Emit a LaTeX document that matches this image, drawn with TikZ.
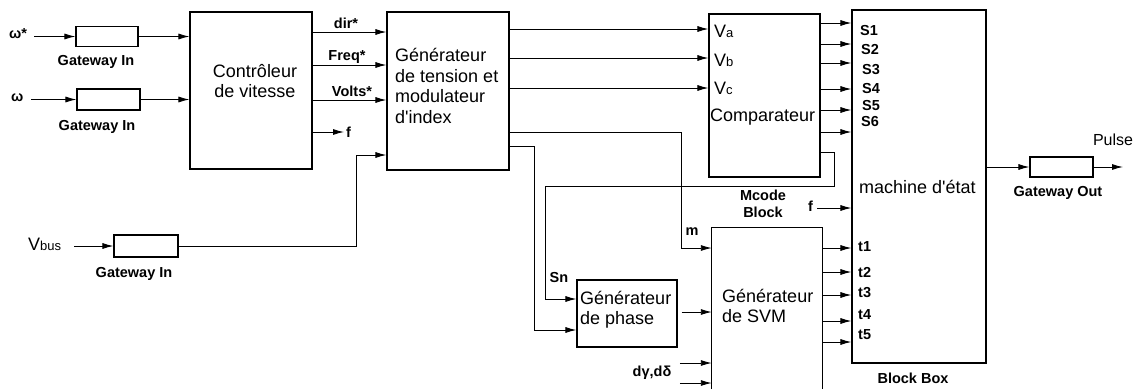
\documentclass[tikz,border=0pt]{standalone}
\usepackage{fontspec}
\setmainfont{Liberation Sans}
\usetikzlibrary{arrows.meta,calc}
\begin{document}
\begin{tikzpicture}[x=1pt,y=-1pt,
  box/.style={draw,line width=1.1pt,inner sep=0pt},
  lbl/.style={inner sep=0pt,font=\fontsize{14.5}{17}\selectfont\bfseries},
  big/.style={inner sep=0pt,align=left,font=\fontsize{18}{20.5}\selectfont},
  arr/.style={line width=0.9pt,-{Latex[length=11pt,width=6pt]}},
  wire/.style={line width=0.9pt}]
\useasboundingbox (0,0) rectangle (1135,389);
\newcommand{\subsm}[1]{{\fontsize{13}{13}\selectfont #1}}
% gateways
\node[box,minimum width=62,minimum height=20] (gw1) at (107,36.5) {};
\node[box,minimum width=63,minimum height=21] (gw2) at (108.5,99.5) {};
\node[box,minimum width=64,minimum height=22] (gw3) at (146,246) {};
\node[box,minimum width=63,minimum height=20] (gwo) at (1061.5,167) {};
\node[lbl] (gw1t) at (96,62) {Gateway In};
\node[lbl] (gw2t) at (97,127) {Gateway In};
\node[lbl] (gw3t) at (134,274) {Gateway In};
\node[lbl] (gwot) at (1058,193) {Gateway Out};
% inputs
\node[lbl,anchor=west] (om1) at (9,34) {ω*};
\node[lbl,anchor=west] (om2) at (11,98) {ω};
\node[big,anchor=west] (vbus) at (28,244) {V\subsm{bus}};
\draw[arr] ($(gw1.west)+(-41,0)$) -- (gw1.west);
\draw[arr] ($(gw2.west)+(-45,0)$) -- (gw2.west);
\draw[arr] ($(gw3.west)+(-39,0)$) -- (gw3.west);
% blocks
\node[box,minimum width=122,minimum height=157] (ctrl) at (251,90.5) {};
\node[big,align=center] (ctrlt) at (255,81) {Contrôleur\\de vitesse};
\node[box,minimum width=122,minimum height=158] (gen) at (448,91) {};
\node[big,anchor=west] (gent) at (395,86) {Générateur\\de tension et\\modulateur\\d\textquotesingle index};
\node[box,minimum width=111,minimum height=163] (comp) at (764.5,95.5) {};
\node[big,anchor=west] (compt) at (710,117) {Comparateur};
\node[big,anchor=west] (va) at (714,31) {V\subsm{a}};
\node[big,anchor=west] (vb) at (714,60) {V\subsm{b}};
\node[big,anchor=west] (vc) at (714,88) {V\subsm{c}};
\node[box,minimum width=134,minimum height=353] (state) at (919,186.5) {};
\node[big,anchor=west] (statet) at (859,187) {machine d\textquotesingle état};
\node[box,minimum width=100,minimum height=67] (phase) at (627,313.5) {};
\node[big,anchor=west] (phaset) at (580,309.5) {Générateur\\de phase};
\node[inner sep=0pt,minimum width=110,minimum height=161] (svm) at (767,308.5) {};
\draw[line width=1.1pt] (svm.south west) -- (svm.north west) -- (svm.north east) -- (svm.south east);
\node[big,anchor=west] (svmt) at (722,306) {Générateur\\de SVM};
% gateway -> controller
\draw[arr] (gw1.east) -- (ctrl.west |- gw1.east);
\draw[arr] (gw2.east) -- (ctrl.west |- gw2.east);
% controller outputs
\draw[arr] (ctrl.east |- 0,32) -- (gen.west |- 0,32);
\draw[arr] (ctrl.east |- 0,65) -- (gen.west |- 0,65);
\draw[arr] (ctrl.east |- 0,100) -- (gen.west |- 0,100);
\node[lbl] (dirt) at (346,23) {dir*};
\node[lbl] (freqt) at (347,57) {Freq*};
\node[lbl] (voltt) at (352,91) {Volts*};
\node[lbl,anchor=west] (fc) at (346,132) {f};
\draw[arr] (ctrl.east |- fc.west) -- ($(fc.west)+(-2,0)$);
% Vbus
\coordinate (vbk) at (356,155);
\draw[arr] (gw3.east) -| (vbk) -- (gen.west |- vbk);
% generator outputs
\draw[arr] (gen.east |- 0,29) -- (comp.west |- 0,29);
\draw[arr] (gen.east |- 0,58) -- (comp.west |- 0,58);
\draw[arr] (gen.east |- 0,88) -- (comp.west |- 0,88);
\coordinate (mk) at (681,248);
\draw[arr] (gen.east |- 0,132) -| (mk) -- (svm.west |- mk);
\coordinate (pk) at (534,330);
\draw[arr] (gen.east |- 0,146) -| (pk) -- (phase.west |- pk);
\node[lbl] (mt) at (692,232) {m};
% comparator feedback (Mcode)
\coordinate (q1) at (834,186);
\coordinate (q2) at (545,299);
\draw[arr] (comp.east |- 0,152) -| (q1) -| (q2) -- (phase.west |- q2);
\node[lbl] (snt) at (559,278) {Sn};
\node[lbl,align=center] (mcode) at (763,203.5) {Mcode\\Block};
% comparator -> state
\foreach \yy in {23,44,63,89,110,132} \draw[arr] (comp.east |- 0,\yy) -- (state.west |- 0,\yy);
\node[lbl,anchor=west] (s1) at (860,31) {S1};
\node[lbl,anchor=west] (s2) at (861,50) {S2};
\node[lbl,anchor=west] (s3) at (862,70) {S3};
\node[lbl,anchor=west] (s4) at (862,89) {S4};
\node[lbl,anchor=west] (s5) at (862,106) {S5};
\node[lbl,anchor=west] (s6) at (861,122) {S6};
\node[lbl,anchor=west] (fs) at (808,206) {f};
\draw[arr] ($(fs.east)+(4,2)$) -- (state.west |- 0,208);
% phase -> svm and inputs
\draw[arr] ($(phase.east |- 0,312)+(4,0)$) -- (svm.west |- 0,312);
\draw[arr] ($(svm.west |- 0,363)+(-32,0)$) -- (svm.west |- 0,363);
\draw[arr] ($(svm.west |- 0,383)+(-32,0)$) -- (svm.west |- 0,383);
\node[lbl] (dgd) at (652,373) {dγ,dδ};
% svm -> state
\foreach \yy in {248,272,295,321,342} \draw[arr] (svm.east |- 0,\yy) -- (state.west |- 0,\yy);
\node[lbl,anchor=west] (t1) at (858,247) {t1};
\node[lbl,anchor=west] (t2) at (858,272) {t2};
\node[lbl,anchor=west] (t3) at (858,293) {t3};
\node[lbl,anchor=west] (t4) at (858,315) {t4};
\node[lbl,anchor=west] (t5) at (858,335) {t5};
% output
\draw[arr] (state.east |- gwo.west) -- (gwo.west);
\coordinate (pend) at (1123,167);
\draw[arr] (gwo.east) -- (pend);
\node[inner sep=0pt,font=\fontsize{16}{16}\selectfont] (pulse) at (1113,140) {Pulse};
\node[lbl] (bbox) at (913,378) {Block Box};
\end{tikzpicture}
\end{document}
